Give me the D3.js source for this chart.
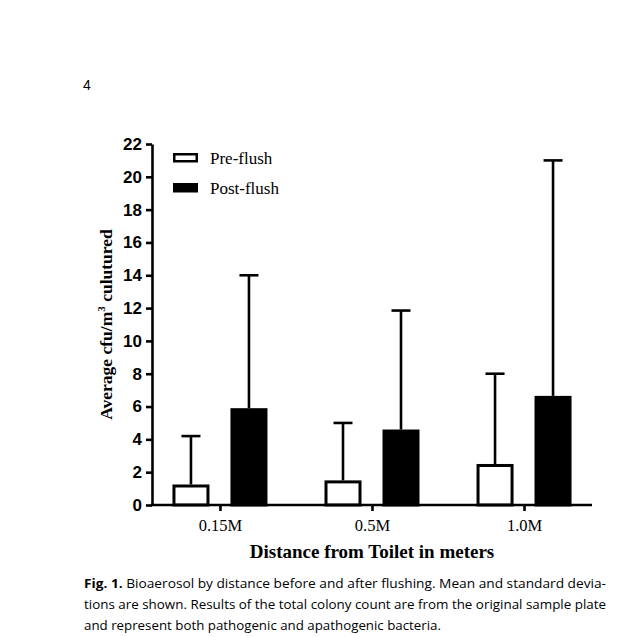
<!DOCTYPE html>
<html>
<head>
<meta charset="utf-8">
<script src="https://cdn.jsdelivr.net/npm/d3@7"></script>
<style>
    body { margin: 0; background: #fff; }
    svg { display: block; }
</style>
</head>
<body>
<div id="chart"></div>
<script>
// values
const categories = ["0.15M", "0.5M", "1.0M"];
const seriesNames = ["Pre-flush", "Post-flush"];
const preMean = [1.25, 1.5, 2.5];
const preSD = [2.95, 3.5, 5.5];
const postMean = [5.9, 4.6, 6.65];
const postSD = [8.1, 7.25, 14.35];
const yTicks = [0, 2, 4, 6, 8, 10, 12, 14, 16, 18, 20, 22];
const captionLines = [
    "Bioaerosol by distance before and after flushing. Mean and standard devia-",
    "tions are shown. Results of the total colony count are from the original sample plate",
    "and represent both pathogenic and apathogenic bacteria."
];

const width = 619, height = 637;
const plotLeft = 152, plotRight = 592, plotTop = 144, plotBottom = 505;
const serif = "'Liberation Serif', 'Times New Roman', serif";
const sans = "'Liberation Sans', Arial, sans-serif";

let svg = d3.select("#chart")
    .append("svg")
    .attr("width", width)
    .attr("height", height);

let x = d3.scalePoint()
    .domain(categories)
    .range([plotLeft, plotRight])
    .padding(0.447);

let sub = d3.scaleBand()
    .domain(seriesNames)
    .range([-47.5, 47.5])
    .paddingInner(0.362);

let y = d3.scaleLinear()
    .domain([0, 22])
    .range([plotBottom, plotTop]);

let data = [];
categories.forEach((c, i) => {
    data.push({cat: c, series: "Pre-flush", mean: preMean[i], sd: preSD[i]});
    data.push({cat: c, series: "Post-flush", mean: postMean[i], sd: postSD[i]});
});

let sw = 3; // outline width of the bars

// error bars (upper half only), drawn first so the bars sit on top
let errs = svg.append("g").selectAll("g")
    .data(data)
    .enter()
    .append("g")
    .attr("transform", d => `translate(${x(d.cat) + sub(d.series) + sub.bandwidth() / 2},0)`);

errs.append("line")
    .attr("y1", d => y(d.mean))
    .attr("y2", d => y(d.mean + d.sd))
    .attr("stroke", "#000")
    .attr("stroke-width", 2.6);

errs.append("line")
    .attr("x1", -9.5)
    .attr("x2", 9.5)
    .attr("y1", d => y(d.mean + d.sd))
    .attr("y2", d => y(d.mean + d.sd))
    .attr("stroke", "#000")
    .attr("stroke-width", 2.6);

svg.append("g").selectAll("rect")
    .data(data)
    .enter()
    .append("rect")
    .attr("x", d => x(d.cat) + sub(d.series) + sw / 2)
    .attr("width", sub.bandwidth() - sw)
    .attr("y", d => y(d.mean) + sw / 2)
    .attr("height", d => y(0) - y(d.mean) - sw / 2)
    .attr("fill", d => d.series === "Pre-flush" ? "#fff" : "#000")
    .attr("stroke", "#000")
    .attr("stroke-width", sw);

// y axis
let yAxis = svg.append("g")
    .attr("transform", `translate(${plotLeft},0)`)
    .call(d3.axisLeft(y).tickValues(yTicks).tickSize(6).tickSizeOuter(0).tickPadding(4));
yAxis.selectAll("path, line").attr("stroke", "#000").attr("stroke-width", 2.6);
yAxis.selectAll("text")
    .attr("fill", "#000")
    .style("font-family", sans)
    .style("font-weight", "bold")
    .style("font-size", "17px");

// x axis
let xAxis = svg.append("g")
    .attr("transform", `translate(0,${plotBottom})`)
    .call(d3.axisBottom(x).tickSize(6).tickSizeOuter(0).tickPadding(8));
xAxis.select("path").attr("d", `M${plotLeft - 1.3},0H${plotRight}`);
xAxis.selectAll("path, line").attr("stroke", "#000").attr("stroke-width", 2.6);
xAxis.selectAll("text")
    .attr("fill", "#000")
    .style("font-family", serif)
    .style("font-size", "16.5px");

// axis titles
svg.append("text")
    .attr("x", (plotLeft + plotRight) / 2)
    .attr("y", 558)
    .attr("text-anchor", "middle")
    .style("font-family", serif)
    .style("font-weight", "bold")
    .style("font-size", "19px")
    .text("Distance from Toilet in meters");

let yTitle = svg.append("text")
    .attr("transform", `translate(112,${(plotTop + plotBottom) / 2}) rotate(-90)`)
    .attr("text-anchor", "middle")
    .style("font-family", serif)
    .style("font-weight", "bold")
    .style("font-size", "17.5px");
yTitle.append("tspan").text("Average cfu/m");
yTitle.append("tspan").attr("dy", -7).style("font-size", "11px").text("3");
yTitle.append("tspan").attr("dy", 7).text(" culutured");

// legend
let legend = svg.append("g").selectAll("g")
    .data(seriesNames)
    .enter()
    .append("g")
    .attr("transform", (d, i) => `translate(173,${153 + i * 30})`);
legend.append("rect")
    .attr("x", 1.25)
    .attr("y", 1.25)
    .attr("width", 22.5)
    .attr("height", 7)
    .attr("fill", d => d === "Pre-flush" ? "#fff" : "#000")
    .attr("stroke", "#000")
    .attr("stroke-width", 2.5);
legend.append("text")
    .attr("x", 37)
    .attr("y", 10.5)
    .style("font-family", serif)
    .style("font-size", "17px")
    .text(d => d);

// page number
svg.append("text")
    .attr("x", 83)
    .attr("y", 90)
    .style("font-family", sans)
    .style("font-size", "14px")
    .text("4");

// caption
let cap = svg.append("g").style("font-family", "'Open Sans', sans-serif").style("font-size", "12px");
let first = cap.append("text").attr("x", 84).attr("y", 588)
    .attr("textLength", 522).attr("lengthAdjust", "spacingAndGlyphs");
first.append("tspan").style("font-weight", "bold").text("Fig. 1.");
first.append("tspan").text("  " + captionLines[0]);
cap.append("text").attr("x", 84).attr("y", 609)
    .attr("textLength", 522).attr("lengthAdjust", "spacingAndGlyphs")
    .text(captionLines[1]);
cap.append("text").attr("x", 84).attr("y", 630)
    .attr("textLength", 357).attr("lengthAdjust", "spacingAndGlyphs")
    .text(captionLines[2]);
</script>
</body>
</html>
